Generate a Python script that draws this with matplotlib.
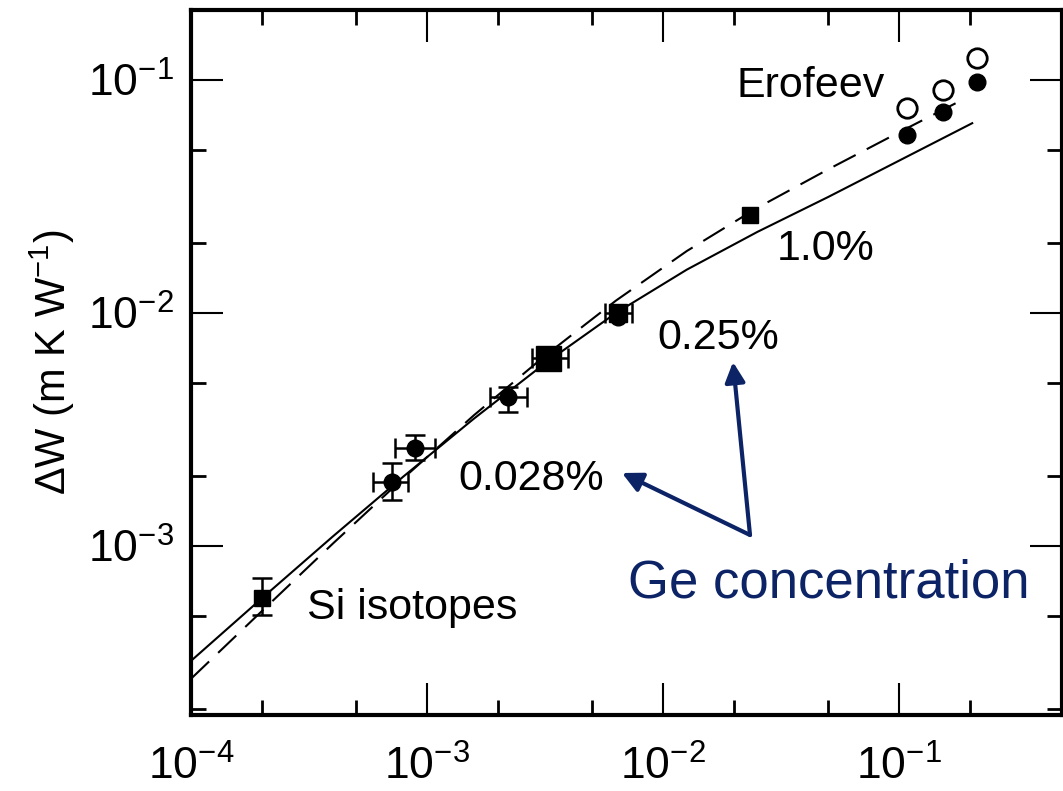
import matplotlib.pyplot as plt
from matplotlib.patches import FancyArrowPatch
from matplotlib.ticker import LogLocator, NullFormatter

plt.rcParams['font.family'] = ['Liberation Sans', 'DejaVu Sans']
plt.rcParams['mathtext.fontset'] = 'custom'
plt.rcParams['mathtext.rm'] = 'Liberation Sans'
plt.rcParams['mathtext.it'] = 'Liberation Sans:italic'
plt.rcParams['mathtext.bf'] = 'Liberation Sans:bold'

NAVY = '#0c2366'

# isotope-only Si sample
si_x = [2.0e-4]
si_y = [6.0e-4]
si_ylo = [5.06e-4]
si_yhi = [7.3e-4]

# Ge-doped samples drawn as circles (x and y error bars)
circ_x = [7.1e-4, 8.9e-4, 2.2e-3]
circ_y = [1.88e-3, 2.64e-3, 4.35e-3]
circ_xlo = [5.9e-4, 7.3e-4, 1.85e-3]
circ_xhi = [8.3e-4, 1.08e-3, 2.65e-3]
circ_ylo = [1.57e-3, 2.34e-3, 3.76e-3]
circ_yhi = [2.27e-3, 2.99e-3, 4.8e-3]

# Ge-doped samples drawn as squares (x error bars)
sq_x = [3.26e-3, 6.44e-3]
sq_y = [6.4e-3, 1.0e-2]
sq_xlo = [2.79e-3, 5.68e-3]
sq_xhi = [3.96e-3, 7.39e-3]

# 1.0 % Ge sample
ge1_x = [2.34e-2]
ge1_y = [2.63e-2]

# Erofeev data, filled and open symbols
ero_x = [0.108, 0.153, 0.214]
ero_fill = [0.0581, 0.0729, 0.098]
ero_open = [0.0758, 0.0906, 0.124]

# model curves
sol_x = [1.0e-4, 2.0e-4, 3.98e-4, 7.94e-4, 1.58e-3, 3.16e-3, 6.31e-3,
         1.26e-2, 2.51e-2, 5.01e-2, 0.1, 0.204]
sol_y = [3.21e-4, 5.97e-4, 1.096e-3, 1.986e-3, 3.52e-3, 6.08e-3, 1.0e-2,
         1.535e-2, 2.23e-2, 3.15e-2, 4.51e-2, 6.53e-2]
dash_x = [1.0e-4, 2.0e-4, 3.98e-4, 7.94e-4, 1.58e-3, 3.16e-3, 6.31e-3,
          1.26e-2, 2.51e-2, 5.01e-2, 0.1, 0.191]
dash_y = [2.69e-4, 5.26e-4, 1.021e-3, 1.954e-3, 3.64e-3, 6.55e-3, 1.13e-2,
          1.845e-2, 2.83e-2, 4.14e-2, 5.97e-2, 8.36e-2]

fig = plt.figure(figsize=(10.63, 7.91), dpi=100)
ax = fig.add_axes([0.1797, 0.0961, 0.8194, 0.8913])
ax.set_xscale('log')
ax.set_yscale('log')
ax.set_xlim(1e-4, 0.49)
ax.set_ylim(1.88e-4, 0.2)

ax.plot(sol_x, sol_y, color='black', lw=1.5, zorder=2)
ax.plot(dash_x, dash_y, color='black', lw=1.5, dashes=(12, 6), zorder=2)

eb = dict(ecolor='black', elinewidth=1.8, capsize=7, capthick=1.8, zorder=3)

ax.errorbar(si_x, si_y,
            yerr=[[y - lo for y, lo in zip(si_y, si_ylo)],
                  [hi - y for y, hi in zip(si_y, si_yhi)]],
            fmt='s', color='black', ms=11, **eb)

ax.errorbar(circ_x, circ_y,
            xerr=[[x - lo for x, lo in zip(circ_x, circ_xlo)],
                  [hi - x for x, hi in zip(circ_x, circ_xhi)]],
            yerr=[[y - lo for y, lo in zip(circ_y, circ_ylo)],
                  [hi - y for y, hi in zip(circ_y, circ_yhi)]],
            fmt='o', color='black', ms=12, **eb)

# circle sitting under the 0.25 % square
ax.plot(sq_x[1], sq_y[1] * 0.96, 'o', color='black', ms=12, zorder=3)
ax.errorbar(sq_x, sq_y,
            xerr=[[x - lo for x, lo in zip(sq_x, sq_xlo)],
                  [hi - x for x, hi in zip(sq_x, sq_xhi)]],
            fmt='s', color='black', ms=13, **eb)
ax.plot(sq_x[0], sq_y[0], 's', color='black', ms=18, zorder=4)

ax.plot(ge1_x, ge1_y, 's', color='black', ms=12, zorder=3)

ax.plot(ero_x, ero_fill, 'o', color='black', ms=12, zorder=3)
ax.plot(ero_x, ero_open, 'o', mfc='white', mec='black', mew=2, ms=14, zorder=3)

# axes frame and ticks
for side in ax.spines.values():
    side.set_linewidth(3)
for axis in (ax.xaxis, ax.yaxis):
    axis.set_major_locator(LogLocator(base=10, numticks=10))
    axis.set_minor_locator(LogLocator(base=10, subs=(2.0, 5.0), numticks=10))
    axis.set_minor_formatter(NullFormatter())
ax.tick_params(which='both', direction='in', top=True, right=True)
ax.tick_params(which='major', length=23, width=1.5, labelsize=32)
ax.tick_params(which='minor', length=11, width=2)
ax.tick_params(axis='x', which='major', pad=22)
ax.tick_params(axis='y', which='major', pad=12)

ax.set_ylabel('ΔW (m K W$^{-1}$)', fontsize=30, labelpad=8)

# annotations
def fx(px):
    return px / 1063

def fy(py):
    return 1 - py / 791

fig.text(fx(737), fy(97), 'Erofeev', fontsize=31)
fig.text(fx(777), fy(260), '1.0%', fontsize=31)
fig.text(fx(657), fy(349), '0.25%', fontsize=31)
fig.text(fx(458), fy(490), '0.028%', fontsize=31)
fig.text(fx(307), fy(619), 'Si isotopes', fontsize=31)
fig.text(fx(628), fy(598), 'Ge concentration', fontsize=38, color=NAVY)

for tip in [(733, 362), (622, 473)]:
    arr = FancyArrowPatch((fx(750), fy(535)), (fx(tip[0]), fy(tip[1])),
                          transform=fig.transFigure, arrowstyle='-|>',
                          mutation_scale=30, color=NAVY, lw=3,
                          shrinkA=0, shrinkB=0)
    fig.patches.append(arr)

fig.savefig('out.png', dpi=100)
